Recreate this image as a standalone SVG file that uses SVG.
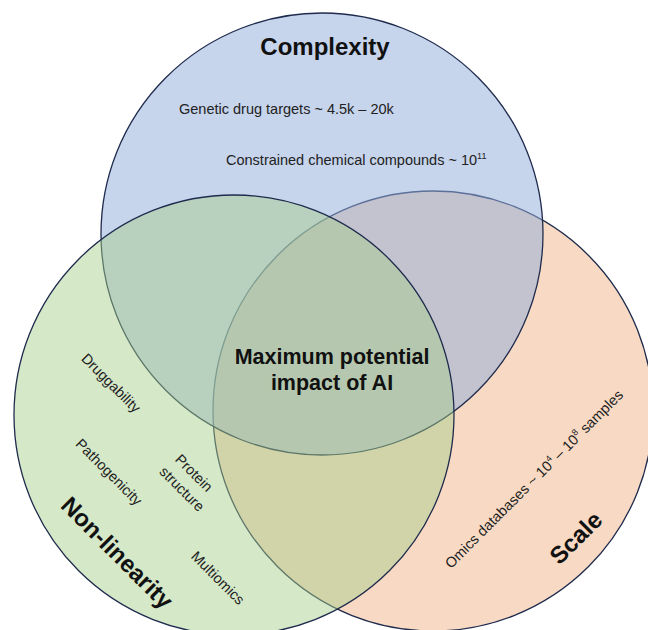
<svg xmlns="http://www.w3.org/2000/svg" width="648" height="630" viewBox="0 0 648 630">
  <style>
    .ring { stroke: #1f2b4d; stroke-width: 1.3; }
    .head { font-family: "Liberation Sans", Arial, sans-serif; font-weight: bold; font-size: 24px; fill: #111; }
    .core { font-family: "Liberation Sans", Arial, sans-serif; font-weight: bold; font-size: 21.5px; fill: #111; text-anchor: middle; }
    .item { font-family: "Liberation Sans", Arial, sans-serif; font-size: 14.5px; fill: #222; }
    .sup { font-size: 9px; }
  </style>
  <rect width="648" height="630" fill="#ffffff"/>

  <!-- Circles: Scale at the bottom, Complexity above it, Non-linearity on top -->
  <g id="scale">
    <circle class="ring" cx="433" cy="411" r="220" fill="#f8dac4"/>
  </g>
  <g id="complexity">
    <circle class="ring" cx="322" cy="234" r="221" fill="#93aedb" fill-opacity="0.53"/>
  </g>
  <g id="non-linearity">
    <circle class="ring" cx="234" cy="415" r="220" fill="#a6ce8a" fill-opacity="0.47"/>
  </g>

  <!-- Set titles -->
  <g id="titles">
    <text class="head" x="325" y="55" text-anchor="middle">Complexity</text>
    <text class="head" text-anchor="middle" transform="translate(117,553) rotate(45)" dy="8">Non-linearity</text>
    <text class="head" text-anchor="middle" transform="translate(576,538) rotate(-45)" dy="8">Scale</text>
  </g>

  <!-- Central overlap -->
  <g id="center">
    <text class="core" x="332" y="364">Maximum potential</text>
    <text class="core" x="332" y="390">impact of AI</text>
  </g>

  <!-- Complexity items -->
  <g id="complexity-items">
    <text class="item" x="179" y="114">Genetic drug targets ~ 4.5k – 20k</text>
    <text class="item" x="226" y="165">Constrained chemical compounds ~ 10<tspan class="sup" dy="-6">11</tspan></text>
  </g>

  <!-- Non-linearity items -->
  <g id="non-linearity-items">
    <text class="item" text-anchor="middle" transform="translate(111,383) rotate(45)" dy="5">Druggability</text>
    <text class="item" text-anchor="middle" transform="translate(109,472) rotate(45)" dy="5">Pathogenicity</text>
    <text class="item" text-anchor="middle" transform="translate(194,473) rotate(45)" dy="5">Protein</text>
    <text class="item" text-anchor="middle" transform="translate(182,489) rotate(45)" dy="5">structure</text>
    <text class="item" text-anchor="middle" transform="translate(218,578) rotate(45)" dy="5">Multiomics</text>
  </g>

  <!-- Scale items -->
  <g id="scale-items">
    <text class="item" text-anchor="middle" transform="translate(534,479) rotate(-45)" dy="5">Omics databases ~ 10<tspan class="sup" dy="-6">4</tspan><tspan dy="6"> – 10</tspan><tspan class="sup" dy="-6">8</tspan><tspan dy="6"> samples</tspan></text>
  </g>
</svg>
